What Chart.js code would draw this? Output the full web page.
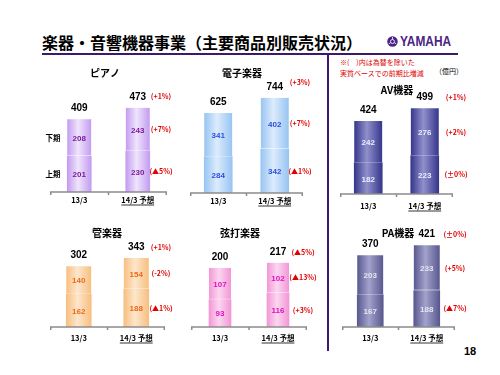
<!DOCTYPE html>
<html>
<head>
<meta charset="utf-8">
<script src="https://cdn.jsdelivr.net/npm/chart.js@4.4.1/dist/chart.umd.min.js"></script>
<style>
  body { margin: 0; background: #fff; }
  #page { position: relative; width: 500px; height: 375px; overflow: hidden; background: #fff;
          font-family: "Noto Sans CJK JP", sans-serif; }
  #page canvas { position: absolute; left: 0; top: 0; }
  .title { position: absolute; left: 42px; top: 30px; font-size: 16px; font-weight: bold; color: #000;
           white-space: nowrap; letter-spacing: 0; }
  .logo { position: absolute; left: 387px; top: 33px; display: flex; align-items: center; color: #4b2485;
          font-family: "Liberation Sans", Arial, sans-serif; font-weight: bold; font-size: 14px; }
  .logo span { display: inline-block; transform: scaleX(0.85); transform-origin: left center; margin-left: 2px; }
  .hline { position: absolute; left: 42px; top: 53px; width: 416px; height: 2px; background: #3b1a6c; }
  .vline { position: absolute; left: 327px; top: 55px; width: 2px; height: 296px; background: #3b1a6c; }
  .note { position: absolute; left: 340px; font-size: 7px; color: #e00000; white-space: nowrap; line-height: 1; }
  .unit { position: absolute; left: 435px; top: 66px; font-size: 7px; color: #000; white-space: nowrap; }
  .pageno { position: absolute; left: 464px; top: 345px; font-family: "Liberation Sans", Arial, sans-serif;
            font-weight: bold; font-size: 11px; }
</style>
</head>
<body>
<div id="page">
  <div class="title">楽器・音響機器事業（主要商品別販売状況）</div>
  <div class="logo">
    <svg width="11" height="11" viewBox="0 0 22 22">
      <circle cx="11" cy="11" r="10.5" fill="#4b2485"/>
      <circle cx="11" cy="11" r="4" fill="none" stroke="#fff" stroke-width="1.6"/>
      <g stroke="#fff" stroke-width="1.6">
        <line x1="11" y1="7" x2="11" y2="2"/>
        <line x1="7.5" y1="13" x2="3.5" y2="16"/>
        <line x1="14.5" y1="13" x2="18.5" y2="16"/>
      </g>
    </svg>
    <span>YAMAHA</span>
  </div>
  <div class="hline"></div>
  <div class="vline"></div>
  <div class="note" style="top:59px">※(　)内は為替を除いた</div>
  <div class="note" style="top:70px">実質ベースでの前期比増減</div>
  <div class="unit">（億円）</div>
  <div class="pageno">18</div>
  <canvas id="piano" width="500" height="375"></canvas>
  <canvas id="digital" width="500" height="375"></canvas>
  <canvas id="av" width="500" height="375"></canvas>
  <canvas id="wind" width="500" height="375"></canvas>
  <canvas id="strings" width="500" height="375"></canvas>
  <canvas id="pa" width="500" height="375"></canvas>
</div>
<script>
const categories = ['13/3', '14/3 予想'];
const halfNames = ['上期', '下期'];

// first half / second half / total, 億円
const pianoFirst = [201, 230];
const pianoSecond = [208, 243];
const pianoTotal = [409, 473];
const pianoChange = ['(▲5%)', '(+7%)', '(+1%)'];

const digitalFirst = [284, 342];
const digitalSecond = [341, 402];
const digitalTotal = [625, 744];
const digitalChange = ['(▲1%)', '(+7%)', '(+3%)'];

const avFirst = [182, 223];
const avSecond = [242, 276];
const avTotal = [424, 499];
const avChange = ['(±0%)', '(+2%)', '(+1%)'];

const windFirst = [162, 188];
const windSecond = [140, 154];
const windTotal = [302, 343];
const windChange = ['(▲1%)', '(-2%)', '(+1%)'];

const stringsFirst = [93, 116];
const stringsSecond = [107, 102];
const stringsTotal = [200, 217];
const stringsChange = ['(+3%)', '(▲13%)', '(▲5%)'];

const paFirst = [167, 188];
const paSecond = [203, 233];
const paTotal = [370, 421];
const paChange = ['(▲7%)', '(+5%)', '(±0%)'];

const NUM_FONT = '"Liberation Sans", Arial, sans-serif';
const JP_FONT = '"Noto Sans CJK JP", sans-serif';

function slideLabels(cfg) {
  return {
    id: 'slideLabels',
    afterDatasetsDraw(chart) {
      const { ctx, chartArea, scales: { x, y } } = chart;
      ctx.save();
      ctx.textAlign = 'center';
      ctx.textBaseline = 'middle';

      // axis line with small ticks
      ctx.strokeStyle = '#8c8c8c';
      ctx.lineWidth = 1.5;
      ctx.beginPath();
      ctx.moveTo(chartArea.left, chartArea.bottom);
      ctx.lineTo(chartArea.right, chartArea.bottom);
      const mid = (chartArea.left + chartArea.right) / 2;
      [chartArea.left + 0.75, mid, chartArea.right - 0.75].forEach(px => {
        ctx.moveTo(px, chartArea.bottom);
        ctx.lineTo(px, chartArea.bottom + 3);
      });
      ctx.stroke();

      // title
      ctx.fillStyle = '#000';
      ctx.font = 'bold 10px ' + JP_FONT;
      ctx.fillText(cfg.title, cfg.titleX, cfg.titleY);

      categories.forEach((cat, i) => {
        const cx = x.getPixelForValue(i);
        const y0 = y.getPixelForValue(0);
        const y1 = y.getPixelForValue(cfg.first[i]);
        const y2 = y.getPixelForValue(cfg.first[i] + cfg.second[i]);

        // segment values
        ctx.fillStyle = cfg.textColor;
        ctx.font = 'bold 8px ' + NUM_FONT;
        ctx.fillText(cfg.first[i], cx, (y0 + y1) / 2 + 1);
        ctx.fillText(cfg.second[i], cx, (y1 + y2) / 2 + 1);

        // total
        const ty = y.getPixelForValue(cfg.total[i]) - 11;
        ctx.fillStyle = '#000';
        ctx.font = 'bold 10px ' + NUM_FONT;
        ctx.fillText(cfg.total[i], cx, ty);

        // category label
        ctx.font = 'bold 7.5px ' + JP_FONT;
        const ly = chartArea.bottom + cfg.catDy;
        ctx.fillText(cat, cx, ly);
        if (i === 1) {
          const w = ctx.measureText(cat).width;
          ctx.lineWidth = 0.8;
          ctx.strokeStyle = '#000';
          ctx.beginPath();
          ctx.moveTo(cx - w / 2, ly + 5);
          ctx.lineTo(cx + w / 2, ly + 5);
          ctx.stroke();
        }

        if (i === 1) {
          ctx.fillStyle = '#e00000';
          ctx.font = 'bold 7px ' + JP_FONT;
          ctx.fillText(cfg.change[0], cfg.pctX, (y0 + y1) / 2);
          ctx.fillText(cfg.change[1], cfg.pctX, (y1 + y2) / 2);
          ctx.fillText(cfg.change[2], cfg.pctX, ty + (cfg.totalPctDy || 0));
        }
        if (i === 0 && cfg.halfLabels) {
          ctx.fillStyle = '#000';
          ctx.font = 'bold 7.5px ' + JP_FONT;
          ctx.fillText(halfNames[0], cfg.halfX, (y0 + y1) / 2);
          ctx.fillText(halfNames[1], cfg.halfX, (y1 + y2) / 2);
        }
      });
      ctx.restore();
    }
  };
}

function barGradient(cfg) {
  return context => {
    const chart = context.chart;
    const x = chart.scales.x;
    if (!x || context.dataIndex === undefined) return cfg.edge;
    const cx = x.getPixelForValue(context.dataIndex);
    if (!isFinite(cx)) return cfg.edge;
    const g = chart.ctx.createLinearGradient(cx - cfg.bar / 2, 0, cx + cfg.bar / 2, 0);
    g.addColorStop(0, cfg.edge);
    g.addColorStop(0.45, cfg.light);
    g.addColorStop(1, cfg.edge);
    return g;
  };
}

function drawStack(id, cfg) {
  const areaH = cfg.axisY - cfg.areaTop;
  new Chart(document.getElementById(id), {
    type: 'bar',
    data: {
      labels: categories,
      datasets: [{
        label: halfNames[0],
        data: cfg.first,
        backgroundColor: barGradient(cfg),
        borderWidth: 0,
        barThickness: cfg.bar,
      }, {
        label: halfNames[1],
        data: cfg.second,
        backgroundColor: barGradient(cfg),
        borderColor: 'rgba(255,255,255,0.75)',
        borderWidth: { top: 0, left: 0, right: 0, bottom: 1 },
        borderSkipped: false,
        barThickness: cfg.bar,
      }],
    },
    options: {
      responsive: false,
      animation: false,
      events: [],
      layout: {
        padding: { left: cfg.axisL, right: 500 - cfg.axisR, top: cfg.areaTop, bottom: 375 - cfg.axisY },
      },
      scales: {
        x: { stacked: true, display: false },
        y: { stacked: true, display: false, min: 0, max: areaH / cfg.ppu },
      },
      plugins: { legend: { display: false }, tooltip: { enabled: false } },
    },
    plugins: [slideLabels(cfg)],
  });
}

drawStack('piano', {
  title: 'ピアノ', first: pianoFirst, second: pianoSecond, total: pianoTotal, change: pianoChange,
  axisL: 50, axisR: 167, axisY: 192, areaTop: 70, ppu: 0.178, bar: 24,
  titleX: 105, titleY: 73, pctX: 161, catDy: 8, halfLabels: true, halfX: 53,
  edge: '#c39cef', light: '#efe4fd', textColor: '#7a1c9c',
});
drawStack('digital', {
  title: '電子楽器', first: digitalFirst, second: digitalSecond, total: digitalTotal, change: digitalChange,
  axisL: 190, axisR: 303, axisY: 193, areaTop: 70, ppu: 0.128, bar: 28,
  titleX: 242, titleY: 73, pctX: 300, catDy: 8, totalPctDy: -4,
  edge: '#98c4f2', light: '#dcecfd', textColor: '#2a4fe0',
});
drawStack('av', {
  title: 'AV機器', first: avFirst, second: avSecond, total: avTotal, change: avChange,
  axisL: 340, axisR: 453, axisY: 194, areaTop: 70, ppu: 0.172, bar: 28,
  titleX: 397, titleY: 90, pctX: 456, catDy: 12,
  edge: '#36368c', light: '#9090cc', textColor: '#ececff',
});
drawStack('wind', {
  title: '管楽器', first: windFirst, second: windSecond, total: windTotal, change: windChange,
  axisL: 50, axisR: 165, axisY: 327, areaTop: 230, ppu: 0.2015, bar: 25,
  titleX: 107, titleY: 233, pctX: 161, catDy: 11,
  edge: '#f8bf80', light: '#fde6cc', textColor: '#f06818',
});
drawStack('strings', {
  title: '弦打楽器', first: stringsFirst, second: stringsSecond, total: stringsTotal, change: stringsChange,
  axisL: 191, axisR: 307, axisY: 327, areaTop: 230, ppu: 0.295, bar: 22,
  titleX: 240, titleY: 233, pctX: 303, catDy: 11,
  edge: '#f396d6', light: '#fcd6f0', textColor: '#e012c0',
});
drawStack('pa', {
  title: 'PA機器', first: paFirst, second: paSecond, total: paTotal, change: paChange,
  axisL: 342, axisR: 455, axisY: 327, areaTop: 230, ppu: 0.194, bar: 26,
  titleX: 398, titleY: 233, pctX: 455, catDy: 11,
  edge: '#58588f', light: '#a2a2cc', textColor: '#e4e4f2',
});
</script>
</body>
</html>
